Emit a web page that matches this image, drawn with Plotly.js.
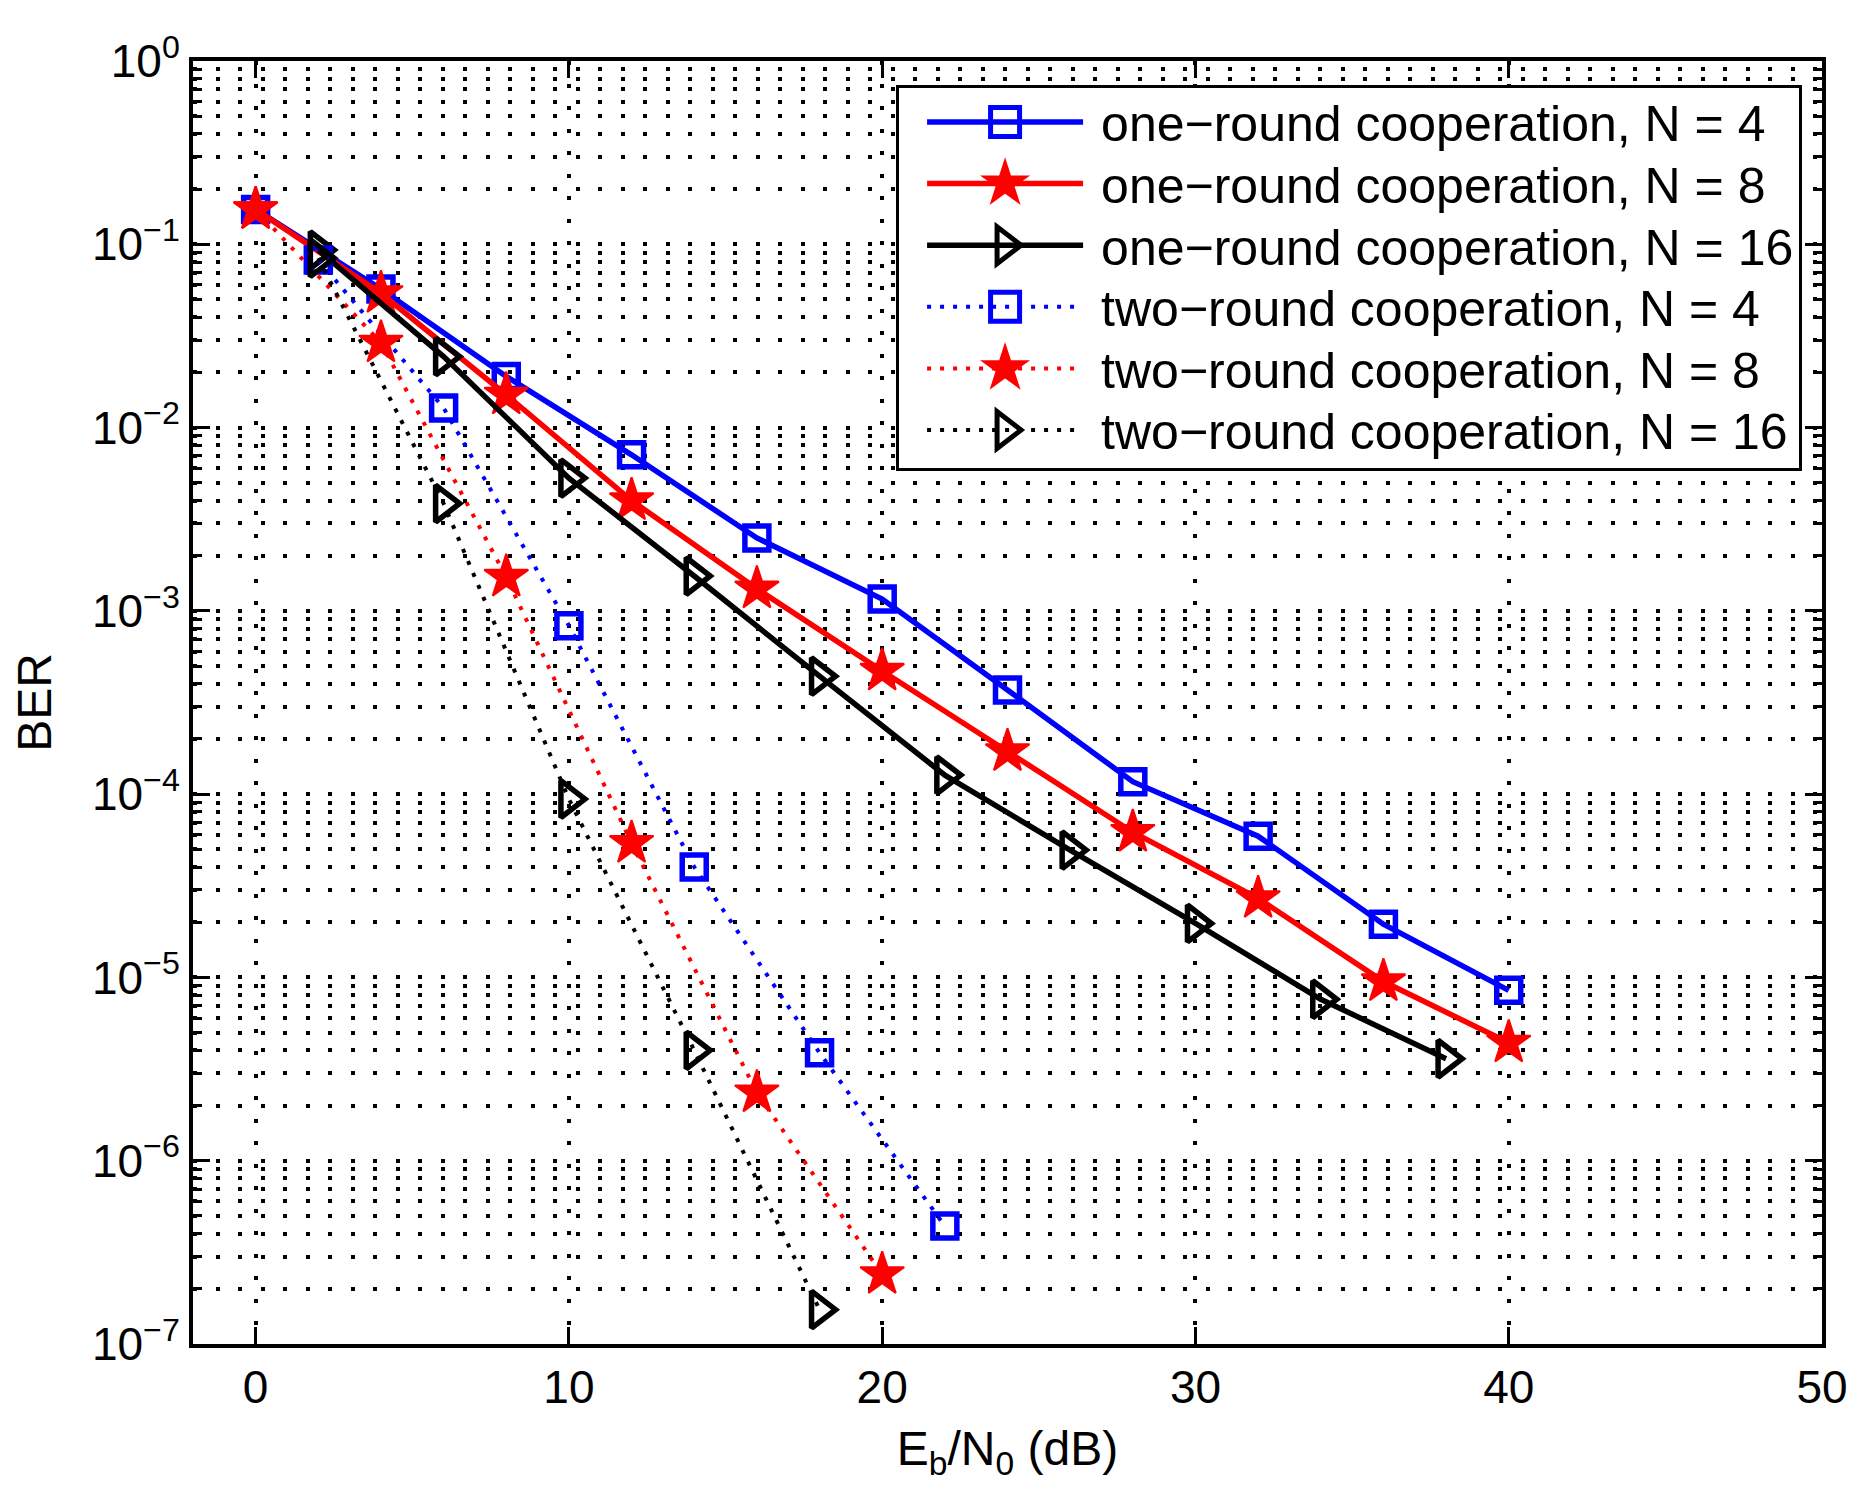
<!DOCTYPE html>
<html>
<head>
<meta charset="utf-8">
<script src="https://cdn.plot.ly/plotly-3.0.1.min.js"></script>
<style>
  body { margin: 0; background: #fff; }
</style>
</head>
<body>
<div id="chart" style="width:1858px;height:1505px"></div>
<script>
// Eb/N0 (dB) sample points and BER
const snrOne4 = [0, 4, 8, 12, 16, 20, 24, 28, 32, 36, 40];
const berOne4 = [0.155, 0.057, 0.019, 0.0071, 0.0025, 0.00116, 3.7e-4, 1.17e-4, 5.9e-5, 1.95e-5, 8.5e-6];

const snrOne8 = [0, 4, 8, 12, 16, 20, 24, 28, 32, 36, 40];
const berOne8 = [0.155, 0.054, 0.0151, 0.0040, 0.00132, 4.7e-4, 1.71e-4, 6.2e-5, 2.7e-5, 9.5e-6, 4.4e-6];

const snrOne16 = [2, 6, 10, 14, 18, 22, 26, 30, 34, 38];
const berOne16 = [0.093, 0.0244, 0.0053, 0.00155, 4.4e-4, 1.27e-4, 4.95e-5, 1.97e-5, 7.6e-6, 3.6e-6];

const snrTwo4 = [2, 6, 10, 14, 18, 22];
const berTwo4 = [0.082, 0.0128, 8.3e-4, 4.0e-5, 3.88e-6, 4.4e-7];

const snrTwo8 = [0, 4, 8, 12, 16, 20];
const berTwo8 = [0.155, 0.029, 1.53e-3, 5.4e-5, 2.35e-6, 2.4e-7];

const snrTwo16 = [2, 6, 10, 14, 18];
const berTwo16 = [0.084, 3.85e-3, 9.4e-5, 4.0e-6, 1.54e-7];

const names = [
  "one\u2212round cooperation, N = 4",
  "one\u2212round cooperation, N = 8",
  "one\u2212round cooperation, N = 16",
  "two\u2212round cooperation, N = 4",
  "two\u2212round cooperation, N = 8",
  "two\u2212round cooperation, N = 16"
];

const yTickVals = [1e-7, 1e-6, 1e-5, 1e-4, 1e-3, 1e-2, 1e-1, 1];
const yTickText = ["10<sup>\u22127</sup>", "10<sup>\u22126</sup>", "10<sup>\u22125</sup>",
  "10<sup>\u22124</sup>", "10<sup>\u22123</sup>", "10<sup>\u22122</sup>",
  "10<sup>\u22121</sup>", "10<sup>0</sup>"];

const BLUE = "#0000ff", RED = "#ff0000", BLACK = "#000000";
const DOTS = "4px,9px";

function series(x, y, name, color, dash, symbol, size, lw) {
  return {
    x: x, y: y, name: name,
    type: "scatter", mode: "lines+markers",
    line: {color: color, width: dash ? 4 : 5.5, dash: dash || "solid"},
    marker: {symbol: symbol, size: size, color: color,
             line: {color: color, width: lw}}
  };
}

const data = [
  series(snrOne4, berOne4, names[0], BLUE, null, "square-open", 24, 5.5),
  series(snrOne8, berOne8, names[1], RED, null, "star", 33, 2),
  series(snrOne16, berOne16, names[2], BLACK, null, "triangle-right-open", 32, 5.5),
  series(snrTwo4, berTwo4, names[3], BLUE, DOTS, "square-open", 24, 5.5),
  series(snrTwo8, berTwo8, names[4], RED, DOTS, "star", 33, 2),
  series(snrTwo16, berTwo16, names[5], BLACK, DOTS, "triangle-right-open", 32, 5.5)
];

const gridDash = "4px,18.5px";

const layout = {
  width: 1858, height: 1505,
  margin: {l: 193, r: 36, t: 61, b: 161},
  paper_bgcolor: "white", plot_bgcolor: "white",
  font: {family: "Liberation Sans, Arial, Helvetica, sans-serif", size: 46, color: "black"},
  showlegend: true,
  legend: {
    x: 0.4316, y: 0.9813, xanchor: "left", yanchor: "top",
    bgcolor: "white", bordercolor: "black", borderwidth: 3,
    font: {size: 50}, itemwidth: 192, tracegroupgap: 0
  },
  xaxis: {
    range: [-2, 50], tick0: 0, dtick: 10,
    showline: true, linecolor: "black", linewidth: 4, mirror: "ticks",
    ticks: "inside", ticklen: 17, tickwidth: 3, tickcolor: "black",
    showgrid: true, gridcolor: "black", gridwidth: 3.5, griddash: gridDash,
    zeroline: false,
    title: {text: "E<sub>b</sub>/N<sub>0</sub> (dB)", font: {size: 48}, standoff: 20}
  },
  yaxis: {
    type: "log", range: [-7, 0],
    tickmode: "array", tickvals: yTickVals, ticktext: yTickText,
    showline: true, linecolor: "black", linewidth: 4, mirror: "ticks",
    ticks: "inside", ticklen: 17, tickwidth: 3, tickcolor: "black",
    showgrid: true, gridcolor: "black", gridwidth: 3.5, griddash: gridDash,
    zeroline: false,
    minor: {
      tickmode: "linear", dtick: "D1",
      ticks: "inside", ticklen: 9, tickwidth: 3, tickcolor: "black",
      showgrid: true, gridcolor: "black", gridwidth: 3.5, griddash: gridDash
    },
    title: {text: "BER", font: {size: 48}, standoff: 26}
  }
};

// matlab-like legend: tighter rows, longer sample line, bigger symbols
const ROW_H = 61.6, ROW_SHIFT = -5, BOX_TRIM = 6, LINE_IN = 23, LINE_LEN = 156;

Plotly.newPlot("chart", data, layout, {displayModeBar: false}).then(function (gd) {
  const leg = gd.querySelector(".legend");
  const items = Array.from(leg.querySelectorAll(".traces"));
  let y0 = null, oldGap = 0;
  items.forEach(function (t, i) {
    const m = /translate\(\s*([-\d.e]+)[ ,]+([-\d.e]+)\s*\)/.exec(t.getAttribute("transform"));
    const tx = parseFloat(m[1]), ty = parseFloat(m[2]);
    if (i === 0) y0 = ty;
    if (i === 1) oldGap = ty - y0;
    t.setAttribute("transform", "translate(" + tx + "," + (y0 + ROW_SHIFT + i * ROW_H) + ")");

    let x0 = 5;
    t.querySelectorAll("path.js-line").forEach(function (p) {
      const mm = /M\s*([-\d.e]+)/.exec(p.getAttribute("d") || "");
      if (mm) x0 = parseFloat(mm[1]);
      p.setAttribute("d", "M" + (x0 + LINE_IN) + ",0h" + LINE_LEN);
    });
    const want = data[i].marker.size + (data[i].marker.symbol === "square-open" ? 5 : 0);
    t.querySelectorAll("path.scatterpts").forEach(function (p) {
      p.setAttribute("transform", "translate(" + (x0 + LINE_IN + LINE_LEN / 2) + ",0) scale(" + (want / 16) + ")");
      p.style.vectorEffect = "non-scaling-stroke";
    });
  });
  const bg = leg.querySelector("rect.bg");
  if (bg && oldGap) {
    const h = parseFloat(bg.getAttribute("height"));
    bg.setAttribute("height", h - (oldGap - ROW_H) * (items.length - 1) - BOX_TRIM);
  }
});
</script>
</body>
</html>
